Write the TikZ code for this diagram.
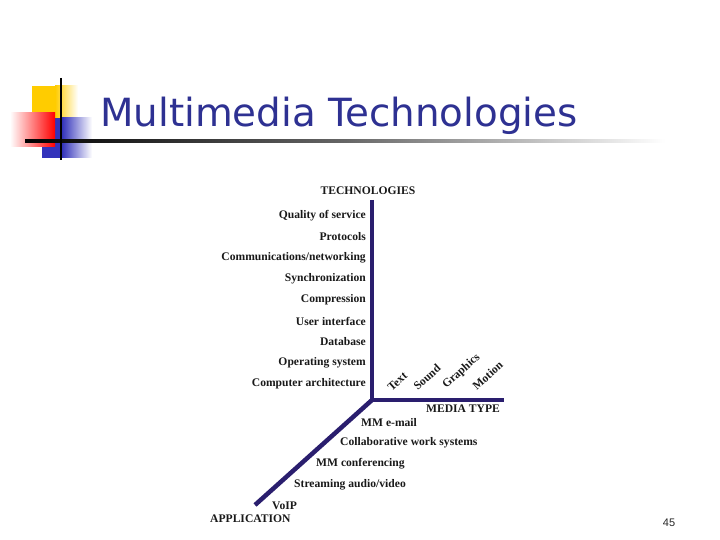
\documentclass[tikz,border=0pt]{standalone}
\usepackage{fontspec}
\setmainfont{Liberation Serif}
\newfontfamily\titlefont{DejaVu Sans}
\newfontfamily\numfont{Liberation Sans}
\definecolor{titleblue}{HTML}{2E3192}
\definecolor{axisnavy}{HTML}{2A1E6E}
\definecolor{ybox}{HTML}{FFCC00}
\definecolor{bbox}{HTML}{3333BB}
\tikzset{
  lbl/.style={font=\bfseries\fontsize{11.6}{13}\selectfont, text=black!90, inner sep=0pt},
  axisline/.style={draw=axisnavy, line width=4.5pt},
}
\begin{document}
\begin{tikzpicture}[x=1pt,y=-1pt]
\useasboundingbox (0,0) rectangle (720,540);
% decoration
\fill[ybox] (32,86) rectangle (55,118);
\fill[left color=ybox, right color=white] (55,86) rectangle (78,118);
\fill[bbox] (42,118) rectangle (62,158);
\fill[left color=bbox, right color=white] (62,118) rectangle (92,158);
\fill[left color=white, right color=red] (10,113) rectangle (55,147);
\fill[left color=black, right color=white, middle color=black!60] (25,139.5) rectangle (665,142.5);
\draw[line width=2.2pt, black] (61,78) -- (61,160);
% title
\node[anchor=base west, inner sep=0pt, text=titleblue, font=\titlefont\fontsize{38.8}{42}\selectfont] (title) at (100,127) {Multimedia Technologies};
% axes
\coordinate (O) at (372,400);
\coordinate (T) at (372,200);
\coordinate (M) at (504,400);
\coordinate (A) at (255,505);
\draw[axisline] (T) -- (O) -- (M);
\draw[axisline] (O) -- (A);
% technologies
\node[lbl] (tech) at (368,191) {TECHNOLOGIES};
\node[lbl, anchor=east] (t1) at (366,216) {Quality of service};
\node[lbl, anchor=east] (t2) at (366,237) {Protocols};
\node[lbl, anchor=east] (t3) at (366,258) {Communications/networking};
\node[lbl, anchor=east] (t4) at (366,279) {Synchronization};
\node[lbl, anchor=east] (t5) at (366,300) {Compression};
\node[lbl, anchor=east] (t6) at (366,321) {User interface};
\node[lbl, anchor=east] (t7) at (366,342) {Database};
\node[lbl, anchor=east] (t8) at (366,363) {Operating system};
\node[lbl, anchor=east] (t9) at (366,384) {Computer architecture};
% media
\node[lbl, rotate=42, anchor=south west] (m1) at (392,392) {Text};
\node[lbl, rotate=42, anchor=south west] (m2) at (418,391) {Sound};
\node[lbl, rotate=42, anchor=south west] (m3) at (448,391) {Graphics};
\node[lbl, rotate=42, anchor=south west] (m4) at (477,391) {Motion};
\node[lbl] (media) at (463,409) {MEDIA TYPE};
% applications
\node[lbl, anchor=west] (a1) at (361,423) {MM e-mail};
\node[lbl, anchor=west] (a2) at (340,443) {Collaborative work systems};
\node[lbl, anchor=west] (a3) at (316,464) {MM conferencing};
\node[lbl, anchor=west] (a4) at (294,485) {Streaming audio/video};
\node[lbl, anchor=west] (a5) at (272,506) {VoIP};
\node[lbl, anchor=west] (app) at (210,519) {APPLICATION};
% page number
\node[font=\numfont\fontsize{11}{12}\selectfont, text=black!85] (num) at (669,523) {45};
\end{tikzpicture}
\end{document}
